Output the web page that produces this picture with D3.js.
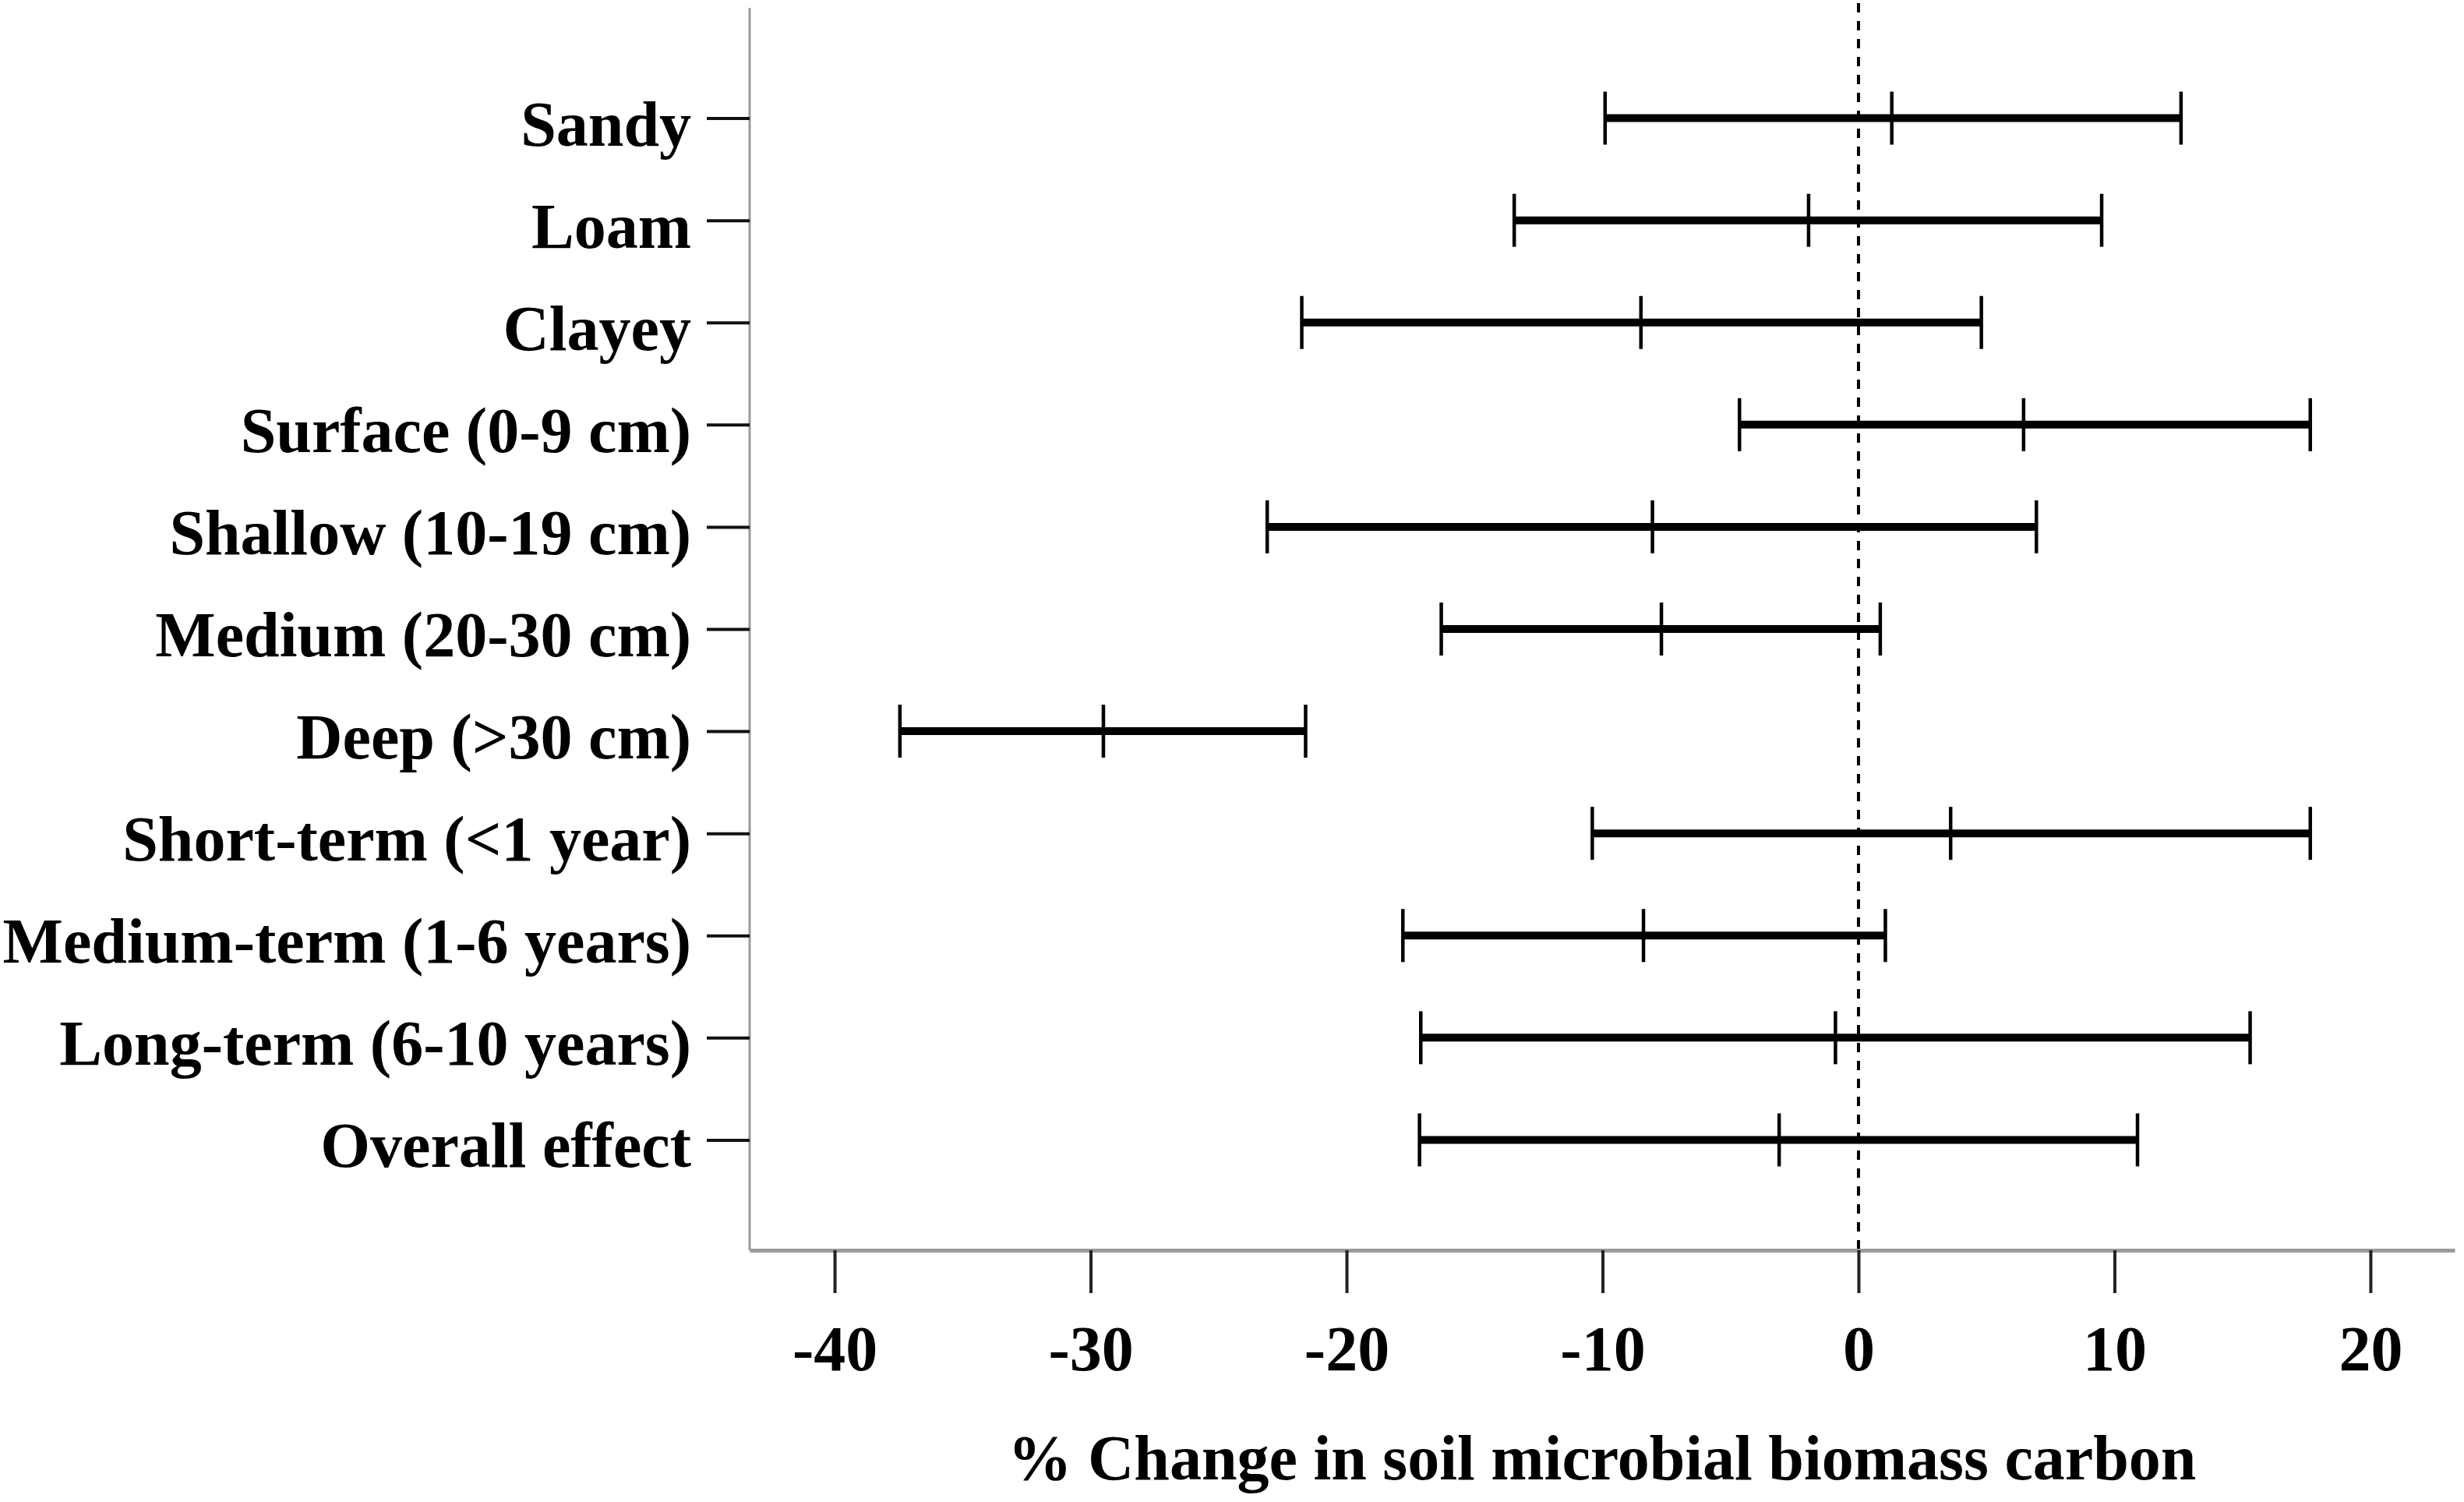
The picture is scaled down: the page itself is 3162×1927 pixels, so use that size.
<!DOCTYPE html>
<html lang="en">
<head>
    <meta charset="UTF-8">
    <script src="https://d3js.org/d3.v7.min.js"></script>
    <title>smbc_forest</title>
    <style>
        body { margin: 0; background: #fff; }
    </style>
</head>
<body>
    <script type="text/javascript">

// subgroups, top to bottom
var categories = ["Sandy", "Loam", "Clayey", "Surface (0-9 cm)", "Shallow (10-19 cm)",
                  "Medium (20-30 cm)", "Deep (>30 cm)", "Short-term (<1 year)",
                  "Medium-term (1-6 years)", "Long-term (6-10 years)", "Overall effect"];

// % change, mean and 95% CI
var means = [1.3, -1.95, -8.5, 6.45, -8.05, -7.7, -29.5, 3.6, -8.4, -0.9, -3.1];
var lower = [-9.9, -13.45, -21.75, -4.65, -23.1, -16.3, -37.45, -10.4, -17.8, -17.1, -17.15];
var upper = [12.6, 9.5, 4.8, 17.65, 6.95, 0.85, -21.6, 17.65, 1.05, 15.3, 10.9];

var xTicks = [-40, -30, -20, -10, 0, 10, 20];
var xTitle = "% Change in soil microbial biomass carbon";

var width = 3162, height = 1927;
// note: "top" is taken by window.top, so plot edges get their own names
var plotL = 962, plotR = 3150, plotT = 10, plotB = 1604;
var font = "'Liberation Serif', 'Times New Roman', serif";

var rows = categories.map(function(c, i) {
    return { name: c, mean: means[i], lo: lower[i], hi: upper[i] };
});

var svg = d3.select("body").append("svg")
    .attr("width", width).attr("height", height);

var x = d3.scaleLinear().domain([-43.32, 23.29]).range([plotL, plotR]);
var y = d3.scalePoint().domain(categories).range([plotT, plotB]).padding(1.08);

// zero line
svg.append("line")
    .attr("x1", x(0)).attr("x2", x(0))
    .attr("y1", 4).attr("y2", plotB)
    .attr("stroke", "#000").attr("stroke-width", 4)
    .attr("stroke-dasharray", "12 11");

// x axis
var gx = svg.append("g")
    .attr("transform", "translate(0," + plotB + ")")
    .call(d3.axisBottom(x).tickValues(xTicks).tickFormat(d3.format("d"))
        .tickSizeInner(55).tickSizeOuter(0).tickPadding(41));
gx.select(".domain").attr("stroke", "#9a9a9a").attr("stroke-width", 5);
gx.selectAll(".tick line").attr("stroke", "#222").attr("stroke-width", 4);
gx.selectAll(".tick text")
    .attr("font-family", font).attr("font-weight", "bold")
    .attr("font-size", 82).attr("fill", "#000")
    .text(function(d) { return d < 0 ? "-" + Math.abs(d) : d; });

// y axis
var gy = svg.append("g")
    .attr("transform", "translate(" + plotL + ",0)")
    .call(d3.axisLeft(y).tickSizeInner(55).tickSizeOuter(0).tickPadding(20));
gy.select(".domain").attr("stroke", "#9a9a9a").attr("stroke-width", 3)
    .attr("d", "M0," + plotT + "V" + plotB);
gy.selectAll(".tick line").attr("stroke", "#111").attr("stroke-width", 4);
gy.selectAll(".tick text")
    .attr("font-family", font).attr("font-weight", "bold")
    .attr("font-size", 82).attr("fill", "#000")
    .attr("dy", "0.42em");

// error bars
var capH = 34;
var bars = svg.append("g").selectAll("g").data(rows).enter().append("g");

bars.append("line")
    .attr("x1", function(d) { return x(d.lo); })
    .attr("x2", function(d) { return x(d.hi); })
    .attr("y1", function(d) { return y(d.name); })
    .attr("y2", function(d) { return y(d.name); })
    .attr("stroke", "#000").attr("stroke-width", 10);

["lo", "mean", "hi"].forEach(function(k) {
    bars.append("line")
        .attr("x1", function(d) { return x(d[k]); })
        .attr("x2", function(d) { return x(d[k]); })
        .attr("y1", function(d) { return y(d.name) - capH; })
        .attr("y2", function(d) { return y(d.name) + capH; })
        .attr("stroke", "#000").attr("stroke-width", 4.5);
});

// axis title
svg.append("text")
    .attr("x", (plotL + plotR) / 2).attr("y", 1898)
    .attr("text-anchor", "middle")
    .attr("font-family", font).attr("font-weight", "bold")
    .attr("font-size", 82).attr("fill", "#000")
    .text(xTitle);

    </script>
</body>
</html>
